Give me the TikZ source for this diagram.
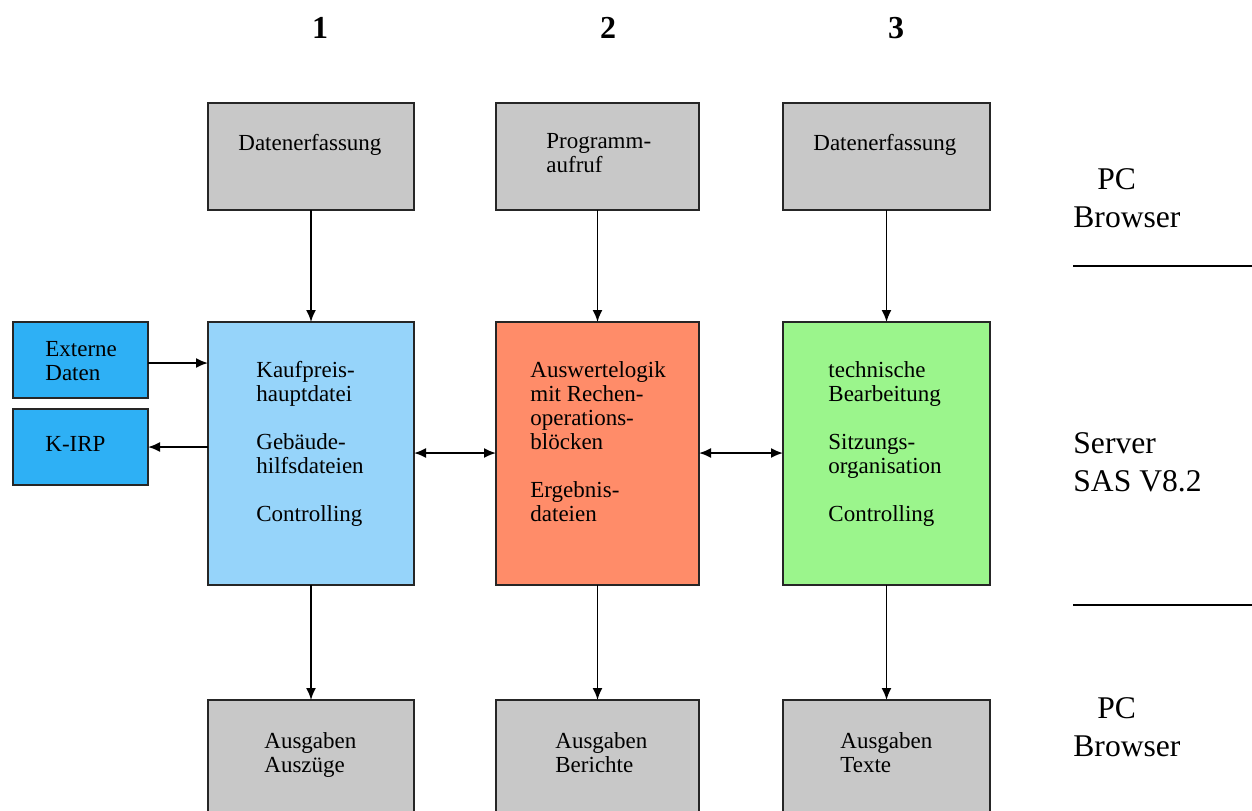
\documentclass[tikz,border=0pt]{standalone}
\usepackage{fontspec}
\setmainfont{Liberation Serif}
\usetikzlibrary{arrows.meta}
\definecolor{boxgray}{RGB}{200,200,200}
\definecolor{lblue}{RGB}{150,212,250}
\definecolor{dblue}{RGB}{46,176,245}
\definecolor{orng}{RGB}{255,140,105}
\definecolor{grn}{RGB}{155,245,140}
\newcommand{\fstrut}{\rule{0pt}{9pt}}
\begin{document}
\begin{tikzpicture}[x=0.5pt,y=-0.5pt,
  box/.style={draw=black!85,line width=1pt,anchor=north west,inner sep=0pt,outer sep=0pt},
  txt/.style={anchor=north west,inner sep=0pt,align=left,font=\fontsize{11.5}{12}\selectfont},
  side/.style={anchor=base west,inner sep=0pt,align=left,font=\fontsize{15.8}{19}\selectfont},
  head/.style={inner sep=0pt,font=\fontsize{16}{18}\selectfont\bfseries},
  arr/.style={line width=0.9pt,-{Latex[length=6pt,width=5pt]}},
  darr/.style={line width=0.9pt,{Latex[length=6pt,width=5pt]}-{Latex[length=6pt,width=5pt]}}]
\clip (0,0) rectangle (1252,810);
\fill[white] (0,0) rectangle (1252,810);
% headers
\node[head] (h1) at (320,28) {1};
\node[head] (h2) at (608,28) {2};
\node[head] (h3) at (896,28) {3};
% top boxes
\node[box,fill=boxgray,minimum width=103pt,minimum height=53.5pt] (t1) at (208,103) {};
\node[box,fill=boxgray,minimum width=101.5pt,minimum height=53.5pt] (t2) at (496,103) {};
\node[box,fill=boxgray,minimum width=103.5pt,minimum height=53.5pt] (t3) at (783,103) {};
\node[txt] (t1a) at (238,132) {\fstrut Datenerfassung};
\node[txt] (t2a) at (546,130) {\fstrut Programm-\\aufruf};
\node[txt] (t3a) at (813,132) {\fstrut Datenerfassung};
% middle boxes
\node[box,fill=lblue,minimum width=103pt,minimum height=131.5pt] (m1) at (208,322) {};
\node[box,fill=orng,minimum width=101.5pt,minimum height=131.5pt] (m2) at (496,322) {};
\node[box,fill=grn,minimum width=103.5pt,minimum height=131.5pt] (m3) at (783,322) {};
\node[txt] (m1a) at (256,359) {\fstrut Kaufpreis-\\hauptdatei\\[12pt]Gebäude-\\hilfsdateien\\[12pt]Controlling};
\node[txt] (m2a) at (530,359) {\fstrut Auswertelogik\\mit Rechen-\\operations-\\blöcken\\[12pt]Ergebnis-\\dateien};
\node[txt] (m3a) at (828,359) {\fstrut technische\\Bearbeitung\\[12pt]Sitzungs-\\organisation\\[12pt]Controlling};
% bottom boxes
\node[box,fill=boxgray,minimum width=103pt,minimum height=70pt] (b1) at (208,700) {};
\node[box,fill=boxgray,minimum width=101.5pt,minimum height=70pt] (b2) at (496,700) {};
\node[box,fill=boxgray,minimum width=103.5pt,minimum height=70pt] (b3) at (783,700) {};
\node[txt] (b1a) at (264,730) {\fstrut Ausgaben\\Auszüge};
\node[txt] (b2a) at (555,730) {\fstrut Ausgaben\\Berichte};
\node[txt] (b3a) at (840,730) {\fstrut Ausgaben\\Texte};
% left boxes
\node[box,fill=dblue,minimum width=67.5pt,minimum height=38pt] (e) at (13,322) {};
\node[box,fill=dblue,minimum width=67.5pt,minimum height=38pt] (k) at (13,409) {};
\node[txt] (ea) at (45,338) {\fstrut Externe\\Daten};
\node[txt] (ka) at (45,433) {\fstrut K-IRP};
% connectors
\draw[arr] (t1.south) -- (m1.north);
\draw[arr] (t2.south) -- (m2.north);
\draw[arr] (t3.south) -- (m3.north);
\draw[arr] (m1.south) -- (b1.north);
\draw[arr] (m2.south) -- (b2.north);
\draw[arr] (m3.south) -- (b3.north);
\draw[arr] (e.east |- 0,363) -- (m1.west |- 0,363);
\draw[arr] (m1.west |- 0,447) -- (k.east |- 0,447);
\draw[darr] (m1.east |- 0,453) -- (m2.west |- 0,453);
\draw[darr] (m2.east |- 0,453) -- (m3.west |- 0,453);
% right side labels
\node[side] (r1) at (1073,189) {\hspace*{12pt}PC};
\node[side] (r1b) at (1073,227) {Browser};
\node[side] (r2) at (1073,453) {Server};
\node[side] (r2b) at (1073,491) {SAS V8.2};
\node[side] (r3) at (1073,718) {\hspace*{12pt}PC};
\node[side] (r3b) at (1073,756) {Browser};
\coordinate (l1a) at (1073,266);
\coordinate (l1b) at (1252,266);
\coordinate (l2a) at (1073,605);
\coordinate (l2b) at (1252,605);
\draw[line width=0.7pt] (l1a) -- (l1b);
\draw[line width=0.7pt] (l2a) -- (l2b);
\end{tikzpicture}
\end{document}
